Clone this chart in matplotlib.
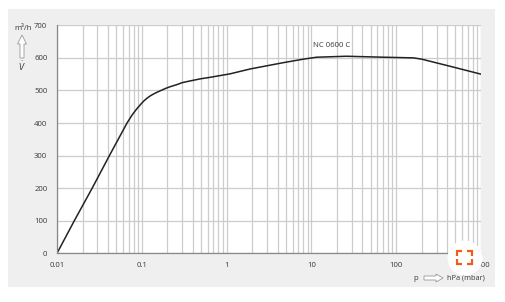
import numpy as np
import matplotlib.pyplot as plt
from matplotlib.patches import Rectangle, Polygon, Circle

plt.rcParams['font.family'] = ['Open Sans', 'DejaVu Sans']

# pressure in hPa (mbar) and pumping speed in m3/h
pressure = [0.01, 0.016, 0.026, 0.0415, 0.067, 0.077, 0.087, 0.096, 0.105, 0.115,
            0.127, 0.142, 0.162, 0.19, 0.213, 0.26, 0.3, 0.368, 0.5, 0.63,
            1.1, 1.9, 4.6, 8, 11.5, 26, 71, 160, 200, 435, 1000]
speed = [0, 100, 200, 300, 400, 425, 443, 456, 467, 476,
         484, 491, 498, 506, 511, 518, 524, 529, 536, 540,
         551, 566, 585, 596, 602, 605, 602, 600, 596, 574, 550]
curve_name = "NC 0600 C"
x_ticks = [0.01, 0.1, 1, 10, 100, 1000]
x_ticklabels = ["0.01", "0.1", "1", "10", "100", "1000"]
y_ticks = [0, 100, 200, 300, 400, 500, 600, 700]

W, H = 505, 302
fig = plt.figure(figsize=(W / 100, H / 100), dpi=100)
fs = 5.6
tc = "#3a3a3a"

def px(x, y):
    # pixel coords (from top-left) -> inches for dpi_scale_trans
    return (x / 100, (H - y) / 100)

# grey panel behind the chart
fig.patches.append(Rectangle((8 / W, (H - 287) / H), 487 / W, 278 / H,
                             transform=fig.transFigure, facecolor="#efefef",
                             edgecolor="none", zorder=-1))

ax = fig.add_axes([57 / W, (H - 253.3) / H, 424 / W, 228 / H])
ax.set_facecolor("white")
ax.set_xscale("log")
ax.set_xlim(0.01, 1000)
ax.set_ylim(0, 700)

ax.grid(True, which="both", axis="x", color="#cccccc", lw=0.9)
ax.grid(True, which="major", axis="y", color="#cccccc", lw=0.9)
ax.set_axisbelow(True)

ax.plot(pressure, speed, color="#222222", lw=1.1)
ax.text(17.5, 638, curve_name, fontsize=fs, color=tc,
        ha="center", va="center")

ax.set_xticks(x_ticks)
ax.set_xticklabels(x_ticklabels)
ax.xaxis.set_minor_formatter(plt.NullFormatter())
ax.set_yticks(y_ticks)
ax.tick_params(which="both", length=0, labelsize=fs, labelcolor=tc)
ax.tick_params(axis="x", pad=6)
ax.tick_params(axis="y", pad=7)

for s in ["top", "right"]:
    ax.spines[s].set_visible(False)
for s in ["left", "bottom"]:
    ax.spines[s].set_color("#888888")
    ax.spines[s].set_linewidth(0.9)

# y axis label with outline arrow
fig.text(23 / W, (H - 28) / H, "m³/h", fontsize=fs, color=tc,
         ha="center", va="center")
up = [(20, 58), (20, 44), (17.5, 44), (22, 35), (26.5, 44), (24, 44), (24, 58)]
fig.patches.append(Polygon([px(x, y) for x, y in up], closed=True,
                           transform=fig.dpi_scale_trans, facecolor="white",
                           edgecolor="#999999", lw=0.6))
fig.text(22 / W, (H - 66) / H, r"$\dot{V}$", fontsize=fs, color=tc,
         ha="center", va="center")

# x axis label with outline arrow
fig.text(416 / W, (H - 278) / H, "p", fontsize=fs, color=tc,
         ha="center", va="center")
right = [(424, 276), (436, 276), (436, 274), (443, 278), (436, 282), (436, 280), (424, 280)]
fig.patches.append(Polygon([px(x, y) for x, y in right], closed=True,
                           transform=fig.dpi_scale_trans, facecolor="white",
                           edgecolor="#999999", lw=0.6))
fig.text(447 / W, (H - 278) / H, "hPa (mbar)", fontsize=5.3, color=tc,
         ha="left", va="center")

# zoom icon in the corner
fig.patches.append(Circle(px(465, 258), 0.175, transform=fig.dpi_scale_trans,
                          facecolor="white", edgecolor="none", zorder=5))
orange = "#f25c19"
x0, x1, y0, y1, L = 456.5, 471.5, 250.5, 264, 5
for pts in [[(x0, y0 + L), (x0, y0), (x0 + L, y0)],
            [(x1 - L, y0), (x1, y0), (x1, y0 + L)],
            [(x0, y1 - L), (x0, y1), (x0 + L, y1)],
            [(x1 - L, y1), (x1, y1), (x1, y1 - L)]]:
    xs, ys = zip(*[px(x, y) for x, y in pts])
    fig.add_artist(plt.Line2D(xs, ys, transform=fig.dpi_scale_trans,
                              color=orange, lw=1.6, zorder=6,
                              solid_joinstyle="miter", solid_capstyle="butt"))

fig.savefig("out.png", dpi=100)
